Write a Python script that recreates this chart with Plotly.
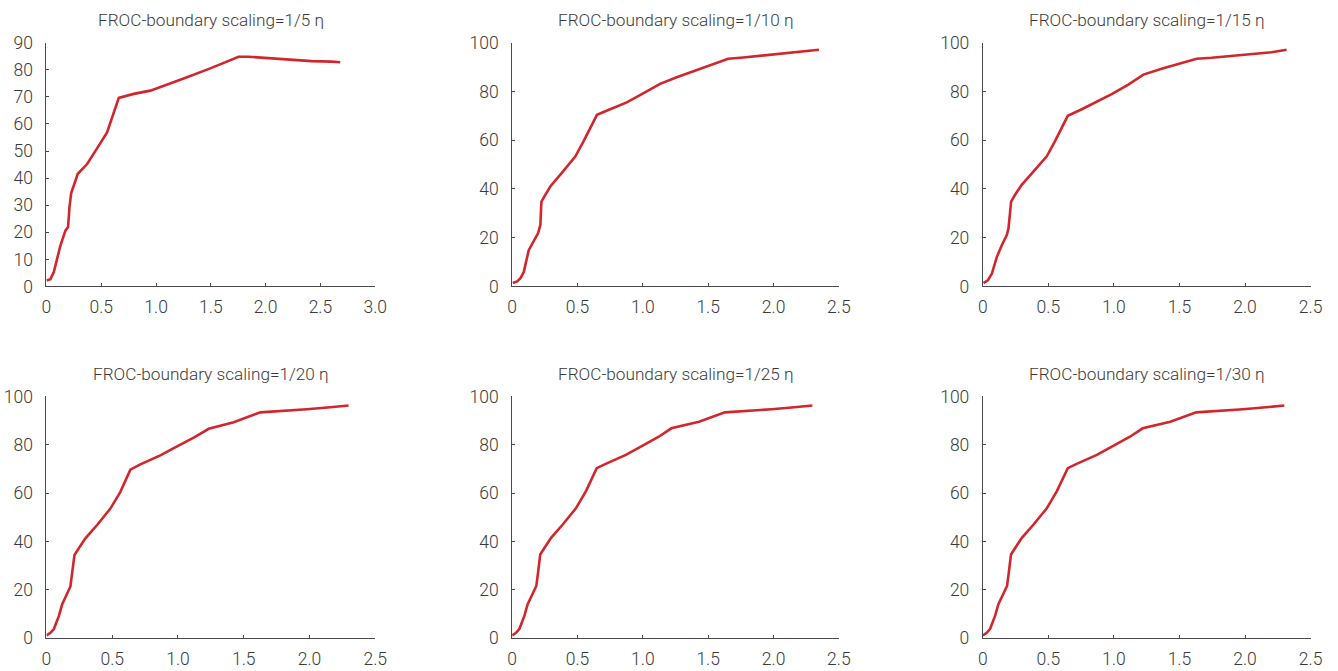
import plotly.graph_objects as go

# ---- data ----
titles = ["FROC-boundary scaling=1/5 η", "FROC-boundary scaling=1/10 η", "FROC-boundary scaling=1/15 η",
          "FROC-boundary scaling=1/20 η", "FROC-boundary scaling=1/25 η", "FROC-boundary scaling=1/30 η"]

x_5 = [0, 0.036, 0.067, 0.097, 0.127, 0.173, 0.197, 0.21, 0.225, 0.286, 0.371, 0.492, 0.553, 0.66, 0.705,
       0.796, 0.948, 1.07, 1.252, 1.495, 1.753, 1.845, 2.01, 2.22, 2.42, 2.60, 2.68]
y_5 = [2.2, 2.7, 5.3, 10.8, 15.1, 20.6, 21.9, 29.3, 34.4, 41.6, 45.2, 52.9, 56.9, 69.6, 70.1,
       71.1, 72.3, 74.0, 76.8, 80.5, 84.8, 84.8, 84.3, 83.9, 83.2, 83.0, 82.8]

x_10 = [0.005, 0.038, 0.064, 0.089, 0.127, 0.165, 0.198, 0.216, 0.224, 0.254, 0.292, 0.369, 0.483, 0.547,
        0.649, 0.75, 0.877, 0.992, 1.132, 1.259, 1.437, 1.653, 1.768, 2.022, 2.2, 2.347]
y_10 = [1.4, 2.1, 3.4, 5.9, 14.9, 18.3, 21.8, 25.2, 34.8, 37.6, 41.0, 45.9, 53.3, 59.6,
        70.4, 72.7, 75.5, 78.9, 83.1, 85.8, 89.3, 93.4, 93.9, 95.2, 96.1, 97.1]

x_15 = [0.005, 0.038, 0.069, 0.107, 0.145, 0.183, 0.196, 0.216, 0.246, 0.297, 0.399, 0.488, 0.551, 0.648,
        0.755, 0.882, 0.983, 1.11, 1.225, 1.364, 1.517, 1.631, 1.745, 1.999, 2.203, 2.317]
y_15 = [1.4, 2.5, 5.2, 12.1, 16.9, 21.1, 23.8, 34.8, 37.6, 41.7, 47.9, 53.4, 59.6, 70.0,
        72.7, 76.2, 78.9, 82.8, 86.9, 89.3, 91.6, 93.4, 93.8, 95.2, 96.1, 97.1]

x_20 = [0, 0.03, 0.056, 0.094, 0.119, 0.157, 0.182, 0.195, 0.213, 0.246, 0.296, 0.385, 0.486, 0.562,
        0.638, 0.714, 0.866, 0.993, 1.12, 1.234, 1.424, 1.626, 1.753, 1.98, 2.158, 2.297]
y_20 = [1.1, 2.2, 3.8, 9.1, 13.9, 18.7, 21.4, 26.9, 34.4, 37.2, 41.3, 46.8, 53.6, 60.5,
        69.7, 71.9, 75.6, 79.3, 82.9, 86.6, 89.3, 93.4, 93.8, 94.7, 95.5, 96.2]

x_25 = [0, 0.03, 0.056, 0.094, 0.119, 0.157, 0.185, 0.198, 0.215, 0.248, 0.298, 0.387, 0.488, 0.565,
        0.647, 0.72, 0.87, 0.995, 1.122, 1.218, 1.43, 1.628, 1.755, 1.985, 2.16, 2.297]
y_25 = [1.1, 2.2, 3.9, 9.3, 14.1, 18.8, 21.6, 27.0, 34.6, 37.4, 41.5, 47.0, 53.7, 60.8,
        70.3, 72.2, 75.8, 79.5, 83.3, 86.8, 89.5, 93.4, 93.8, 94.7, 95.5, 96.2]

x_30 = [0, 0.03, 0.056, 0.094, 0.119, 0.157, 0.185, 0.198, 0.215, 0.248, 0.298, 0.387, 0.488, 0.565,
        0.648, 0.72, 0.87, 0.995, 1.122, 1.22, 1.43, 1.628, 1.755, 1.985, 2.16, 2.30]
y_30 = [1.1, 2.2, 3.9, 9.3, 14.1, 18.8, 21.6, 27.0, 34.6, 37.4, 41.5, 47.0, 53.7, 60.8,
        70.3, 72.2, 75.8, 79.5, 83.3, 86.8, 89.5, 93.4, 93.8, 94.7, 95.5, 96.2]

xs = [x_5, x_10, x_15, x_20, x_25, x_30]
ys = [y_5, y_10, y_15, y_20, y_25, y_30]

x_ticks_30 = [0, 0.5, 1.0, 1.5, 2.0, 2.5, 3.0]
x_labels_30 = ["0", "0.5", "1.0", "1.5", "2.0", "2.5", "3.0"]
x_ticks_25 = [0, 0.5, 1.0, 1.5, 2.0, 2.5]
x_labels_25 = ["0", "0.5", "1.0", "1.5", "2.0", "2.5"]
y_ticks_90 = [0, 10, 20, 30, 40, 50, 60, 70, 80, 90]
y_ticks_100 = [0, 20, 40, 60, 80, 100]

# ---- layout geometry: target screenshot pixels -> figure pixels -> paper ----
W, H = 1338, 671
SX, OX = 0.988, 4.5   # observed placement of the figure within the screenshot
SY, OY = 0.971, 9.3
col_px = [(46, 375), (512, 839), (983, 1311)]
row_px = [(42, 286), (396, 638)]
title_y_px = [19, 374]


def px_x(p):
    return ((p - OX) / SX) / W


def px_y(p):
    return 1 - ((p - OY) / SY) / H


FONT = "Roboto, Liberation Sans, Arial, sans-serif"
LINE_COLOR = "#d1262c"
AXIS_COLOR = "#4a4a4a"
TEXT_COLOR = "#3a3a3a"

fig = go.Figure()
annotations = []
for i in range(6):
    r, c = divmod(i, 3)
    n = i + 1
    xa = "x" if n == 1 else f"x{n}"
    ya = "y" if n == 1 else f"y{n}"
    fig.add_trace(go.Scatter(x=xs[i], y=ys[i], mode="lines",
                             line=dict(color=LINE_COLOR, width=2.6),
                             xaxis=xa, yaxis=ya, showlegend=False))
    x0, x1 = col_px[c]
    top, bot = row_px[r]
    xdom = [px_x(x0), px_x(x1)]
    ydom = [px_y(bot), px_y(top)]
    if i == 0:
        xr, xtv, xtt = [0, 3.0], x_ticks_30, x_labels_30
        yr, ytv = [0, 90], y_ticks_90
    else:
        xr, xtv, xtt = [0, 2.5], x_ticks_25, x_labels_25
        yr, ytv = [0, 100], y_ticks_100
    common = dict(showline=True, linecolor=AXIS_COLOR, linewidth=1, showgrid=False,
                  zeroline=False, ticks="inside", ticklen=3, tickcolor=AXIS_COLOR,
                  tickfont=dict(family=FONT, size=17.5, color=TEXT_COLOR, weight=300))
    fig.update_layout(**{
        ("xaxis" if n == 1 else f"xaxis{n}"): dict(domain=xdom, range=xr, tickvals=xtv, ticktext=xtt,
                                                   anchor=ya, ticklabelstandoff=5, **common),
        ("yaxis" if n == 1 else f"yaxis{n}"): dict(domain=ydom, range=yr, tickvals=ytv,
                                                   anchor=xa, ticklabelstandoff=9, **common),
    })
    annotations.append(dict(text=titles[i], xref="paper", yref="paper",
                            x=px_x((x0 + x1) / 2), y=px_y(title_y_px[r]),
                            xanchor="center", yanchor="middle", showarrow=False,
                            font=dict(family=FONT, size=17.2, color=TEXT_COLOR, weight=300)))

fig.update_layout(width=W, height=H, margin=dict(l=0, r=0, t=0, b=0),
                  paper_bgcolor="white", plot_bgcolor="white",
                  annotations=annotations)

fig.write_html("out.html")
